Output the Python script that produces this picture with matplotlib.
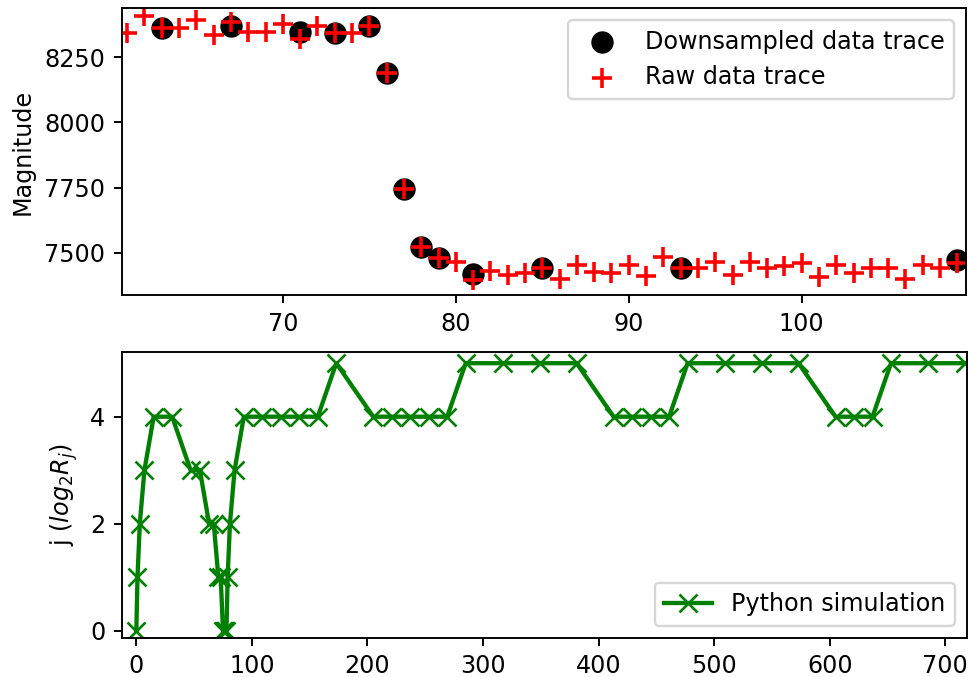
import matplotlib
matplotlib.use("Agg")
import matplotlib.pyplot as plt

# Top panel data
raw_x = list(range(61, 110))
raw_y = [8344, 8408, 8363, 8365, 8395, 8335, 8388, 8348, 8348, 8378,
         8322, 8369, 8344, 8344, 8369, 8190, 7745, 7523, 7478, 7465,
         7395, 7431, 7414, 7421, 7442, 7398, 7453, 7427, 7423, 7453,
         7410, 7482, 7442, 7442, 7462, 7414, 7465, 7440, 7450, 7459,
         7408, 7453, 7423, 7442, 7442, 7398, 7453, 7440, 7459]
down_x = [63, 67, 71, 73, 75, 76, 77, 78, 79, 81, 85, 93, 109]
down_y = [8363, 8370, 8348, 8344, 8369, 8190, 7745, 7523, 7478, 7418, 7441, 7442, 7472]

# Bottom panel data
sim_x = [0, 1, 3, 7, 15, 31, 47, 55, 63, 67, 71, 73, 75, 76, 77, 78, 79, 81, 85, 93,
         109, 125, 141, 157, 173, 205, 221, 237, 253, 269, 285, 317, 349, 381,
         413, 429, 445, 461, 477, 509, 541, 573, 605, 621, 637, 653, 685, 717]
sim_j = [0, 1, 2, 3, 4, 4, 3, 3, 2, 2, 1, 1, 0, 0, 0, 0, 1, 2, 3, 4,
         4, 4, 4, 4, 5, 4, 4, 4, 4, 4, 5, 5, 5, 5,
         4, 4, 4, 4, 5, 5, 5, 5, 4, 4, 4, 5, 5, 5]

dpi = 172
fig = plt.figure(figsize=(968 / dpi, 677 / dpi), dpi=dpi)

W, H = 968, 677
def box(l, r, t, b):
    return [l / W, 1 - b / H, (r - l) / W, (b - t) / H]

ax1 = fig.add_axes(box(122, 966, 8, 295))
ax1.scatter(down_x, down_y, s=70, color='black', label='Downsampled data trace')
ax1.scatter(raw_x, raw_y, s=70, marker='+', color='red', linewidths=1.5,
            label='Raw data trace')
ax1.set_xlim(60.7, 109.5)
ax1.set_ylim(7337, 8440)
ax1.set_yticks([7500, 7750, 8000, 8250])
ax1.set_xticks([70, 80, 90, 100])
ax1.set_ylabel('Magnitude')
ax1.legend(loc='upper right')

ax2 = fig.add_axes(box(122, 966.7, 351.7, 637.7))
ax2.plot(sim_x, sim_j, color='green', marker='x', markersize=7.5, linewidth=1.8,
         markeredgewidth=1.1, label='Python simulation')
ax2.set_xlim(-12.4, 718.5)
ax2.set_ylim(-0.13, 5.215)
ax2.set_yticks([0, 2, 4])
ax2.set_xticks([0, 100, 200, 300, 400, 500, 600, 700])
ax2.set_ylabel('j ($log_2R_j$)')
ax2.legend(loc='lower right')

fig.savefig('out.png', dpi=dpi)
